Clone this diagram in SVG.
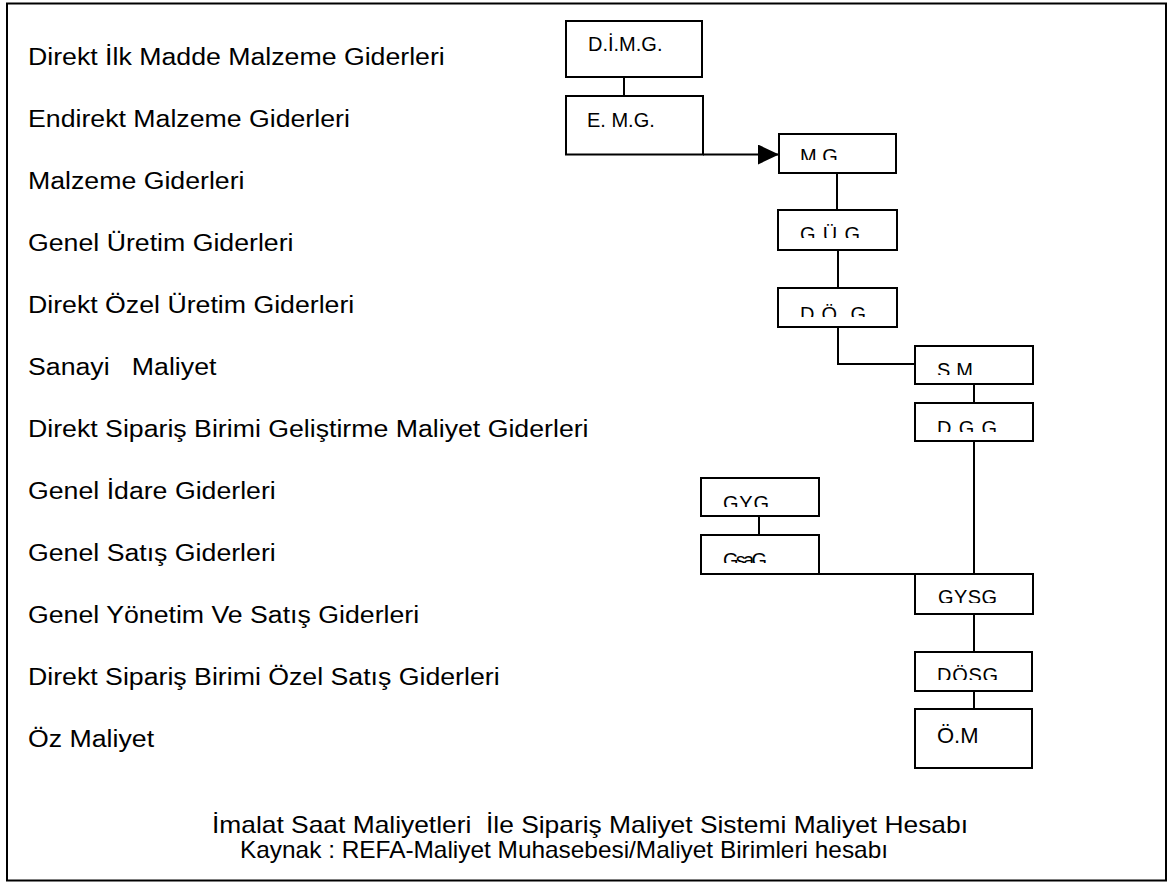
<svg xmlns="http://www.w3.org/2000/svg" width="1169" height="882" viewBox="0 0 1169 882">
  <style>
    .frame { fill: none; stroke: #000; stroke-width: 2; }
    .box { fill: #fff; stroke: #000; stroke-width: 2; }
    .wire { fill: none; stroke: #000; stroke-width: 2; }
    .row { font-family: "Liberation Sans", Arial, sans-serif; font-size: 24.5px; fill: #000; white-space: pre; }
    .lbl { font-family: "Liberation Sans", Arial, sans-serif; font-size: 20px; fill: #000; white-space: pre; }
    .foot { font-family: "Liberation Sans", Arial, sans-serif; font-size: 24px; fill: #000; white-space: pre; }
  </style>
  <defs>
    <marker id="arrow" viewBox="0 0 21 20" refX="21" refY="10" markerWidth="21" markerHeight="20" markerUnits="userSpaceOnUse" orient="auto">
      <path d="M0,0 L21,10 L0,20 Z" fill="#000"/>
    </marker>
    <!-- labels in the lower chain are cut off at the bottom of their text frame -->
    <clipPath id="c-mg" clipPathUnits="userSpaceOnUse"><rect x="779" y="134" width="117" height="26"/></clipPath>
    <clipPath id="c-gug" clipPathUnits="userSpaceOnUse"><rect x="778" y="210" width="119" height="28"/></clipPath>
    <clipPath id="c-dog" clipPathUnits="userSpaceOnUse"><rect x="778" y="288" width="119" height="29"/></clipPath>
    <clipPath id="c-sm" clipPathUnits="userSpaceOnUse"><rect x="915" y="346" width="118" height="29"/></clipPath>
    <clipPath id="c-dgg" clipPathUnits="userSpaceOnUse"><rect x="915" y="403" width="118" height="29"/></clipPath>
    <clipPath id="c-gyg" clipPathUnits="userSpaceOnUse"><rect x="701" y="478" width="118" height="29"/></clipPath>
    <clipPath id="c-gsag" clipPathUnits="userSpaceOnUse"><rect x="701" y="535" width="118" height="28"/></clipPath>
    <clipPath id="c-gysg" clipPathUnits="userSpaceOnUse"><rect x="915" y="574" width="118" height="29"/></clipPath>
    <clipPath id="c-dosg" clipPathUnits="userSpaceOnUse"><rect x="915" y="652" width="117" height="28"/></clipPath>
  </defs>

  <rect width="1169" height="882" fill="#fff"/>
  <rect class="frame" x="7" y="3.5" width="1159" height="877"/>

  <!-- legend rows (type is slightly wide, so the group is stretched horizontally) -->
  <g id="legend" transform="scale(1.09 1)">
    <text class="row" x="25.7" y="65">Direkt İlk Madde Malzeme Giderleri</text>
    <text class="row" x="25.7" y="127">Endirekt Malzeme Giderleri</text>
    <text class="row" x="25.7" y="189">Malzeme Giderleri</text>
    <text class="row" x="25.7" y="251">Genel Üretim Giderleri</text>
    <text class="row" x="25.7" y="313">Direkt Özel Üretim Giderleri</text>
    <text class="row" x="25.7" y="375">Sanayi   Maliyet</text>
    <text class="row" x="25.7" y="437">Direkt Sipariş Birimi Geliştirme Maliyet Giderleri</text>
    <text class="row" x="25.7" y="499">Genel İdare Giderleri</text>
    <text class="row" x="25.7" y="561">Genel Satış Giderleri</text>
    <text class="row" x="25.7" y="623">Genel Yönetim Ve Satış Giderleri</text>
    <text class="row" x="25.7" y="685">Direkt Sipariş Birimi Özel Satış Giderleri</text>
    <text class="row" x="25.7" y="747">Öz Maliyet</text>
  </g>

  <!-- connectors -->
  <g id="connectors">
    <line class="wire" x1="624" y1="77" x2="624" y2="96"/>
    <line class="wire" x1="703" y1="154.5" x2="779" y2="154.5" marker-end="url(#arrow)"/>
    <line class="wire" x1="837" y1="173" x2="837" y2="210"/>
    <line class="wire" x1="838" y1="250" x2="838" y2="288"/>
    <polyline class="wire" points="838,327 838,364 915,364"/>
    <line class="wire" x1="974" y1="384" x2="974" y2="403"/>
    <line class="wire" x1="974" y1="441" x2="974" y2="574"/>
    <line class="wire" x1="759" y1="516" x2="759" y2="535"/>
    <line class="wire" x1="819" y1="574" x2="915" y2="574"/>
    <line class="wire" x1="974" y1="614" x2="974" y2="652"/>
    <line class="wire" x1="974" y1="691" x2="974" y2="709"/>
  </g>

  <!-- nodes -->
  <g id="n-dimg">
    <rect class="box" x="566" y="21" width="136" height="56"/>
    <text class="lbl" x="588" y="51">D.İ.M.G.</text>
  </g>
  <g id="n-emg">
    <rect class="box" x="566" y="96" width="137" height="58.5"/>
    <text class="lbl" x="587" y="127">E. M.G.</text>
  </g>
  <g id="n-mg">
    <rect class="box" x="779" y="134" width="117" height="39"/>
    <text class="lbl" x="800" y="162.5" clip-path="url(#c-mg)">M G</text>
  </g>
  <g id="n-gug">
    <rect class="box" x="778" y="210" width="119" height="40"/>
    <text class="lbl" x="800" y="241" textLength="60" clip-path="url(#c-gug)">G Ü G</text>
  </g>
  <g id="n-dog">
    <rect class="box" x="778" y="288" width="119" height="39"/>
    <text class="lbl" x="800" y="321" textLength="66" clip-path="url(#c-dog)">D Ö  G</text>
  </g>
  <g id="n-sm">
    <rect class="box" x="915" y="346" width="118" height="38"/>
    <text class="lbl" x="937" y="376.5" textLength="36" clip-path="url(#c-sm)">S M</text>
  </g>
  <g id="n-dgg">
    <rect class="box" x="915" y="403" width="118" height="38"/>
    <text class="lbl" x="937" y="434.5" textLength="60" clip-path="url(#c-dgg)">D G G</text>
  </g>
  <g id="n-gyg">
    <rect class="box" x="701" y="478" width="118" height="38"/>
    <text class="lbl" x="723" y="510" textLength="46" clip-path="url(#c-gyg)">GYG</text>
  </g>
  <g id="n-gsag">
    <rect class="box" x="701" y="535" width="118" height="39"/>
    <text class="lbl" x="723" y="567" textLength="44" clip-path="url(#c-gsag)">GsaG</text>
  </g>
  <g id="n-gysg">
    <rect class="box" x="915" y="574" width="118" height="40"/>
    <text class="lbl" x="938" y="604" textLength="59" clip-path="url(#c-gysg)">GYSG</text>
  </g>
  <g id="n-dosg">
    <rect class="box" x="915" y="652" width="117" height="39"/>
    <text class="lbl" x="937" y="682" textLength="61" clip-path="url(#c-dosg)">DÖSG</text>
  </g>
  <g id="n-om">
    <rect class="box" x="915" y="709" width="117" height="59"/>
    <text class="lbl" x="937" y="743" style="font-size:22px">Ö.M</text>
  </g>

  <!-- caption -->
  <g id="caption">
    <text class="foot" x="212" y="833" textLength="756" lengthAdjust="spacingAndGlyphs">İmalat Saat Maliyetleri  İle Sipariş Maliyet Sistemi Maliyet Hesabı</text>
    <text class="foot" x="240" y="858" textLength="648" lengthAdjust="spacingAndGlyphs">Kaynak : REFA-Maliyet Muhasebesi/Maliyet Birimleri hesabı</text>
  </g>
</svg>
